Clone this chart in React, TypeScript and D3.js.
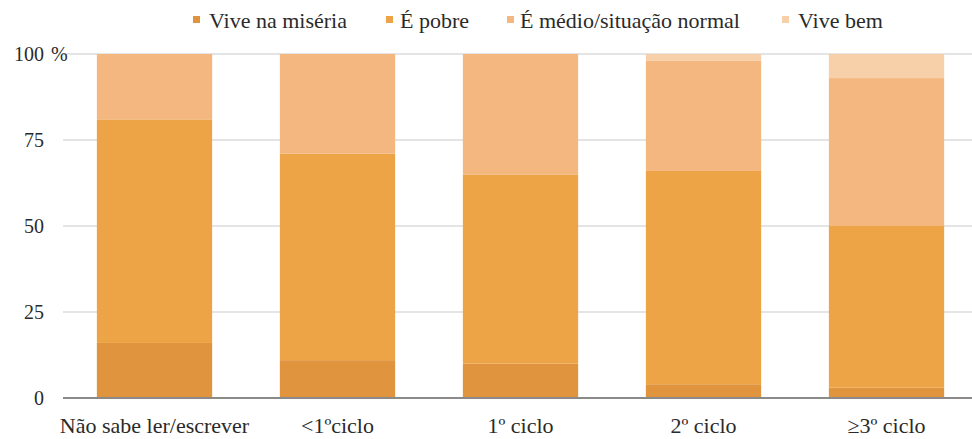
import React from "react";
import * as d3 from "d3";

const categories = ["Não sabe ler/escrever", "<1ºciclo", "1º ciclo", "2º ciclo", "≥3º ciclo"];
const seriesNames = ["Vive na miséria", "É pobre", "É médio/situação normal", "Vive bem"];
const miseria = [16, 11, 10, 4, 3];
const pobre = [65, 60, 55, 62, 47];
const medio = [19, 29, 35, 32, 43];
const viveBem = [0, 0, 0, 2, 7];
const yTicks = [0, 25, 50, 75, 100];
const colors = ["#E0943D", "#EDA447", "#F3B77F", "#F7CFA9"];

const W = 972;
const H = 439;

export default function App() {
  const x = d3.scaleBand<string>().domain(categories).range([63, 978]).paddingInner(0.37).paddingOuter(0.185);
  const y = d3.scaleLinear().domain([0, 100]).range([398, 54]);
  const rows = categories.map((c, i) => ({
    cat: c,
    s0: miseria[i],
    s1: pobre[i],
    s2: medio[i],
    s3: viveBem[i],
  }));
  const stack = d3.stack<any>().keys(["s0", "s1", "s2", "s3"]);
  const layers = stack(rows);
  const legendSq = [193, 386, 507, 782];
  const legendTx = [209, 400, 520, 798];

  return (
    <div style={{ position: "fixed", left: 0, top: 0, width: W, height: H, background: "#fff", fontFamily: "serif" }}>
      <svg width={W} height={H}>
        {yTicks.filter((t) => t > 0).map((t) => (
          <line key={t} x1={63} x2={W} y1={y(t)} y2={y(t)} stroke="#c9c9c9" strokeWidth={1.2} />
        ))}
        {layers.map((layer, li) => (
          <g key={li} fill={colors[li]}>
            {layer.map((d, i) => (
              <rect key={i} x={x(categories[i])} width={x.bandwidth()} y={y(d[1])} height={Math.max(0, y(d[0]) - y(d[1]))} />
            ))}
          </g>
        ))}
        <line x1={63} x2={W} y1={y(0)} y2={y(0)} stroke="#8a8a8a" strokeWidth={2} />
        <g fill="#2a2a2a" style={{ fontFamily: "serif" }}>
          {yTicks.map((t) => (
            <text key={t} x={44} y={y(t) + 7} textAnchor="end" fontSize={20}>
              {String(t)}
            </text>
          ))}
          <text x={51} y={y(100) + 7} fontSize={20}>%</text>
          {categories.map((c) => (
            <text key={c} x={(x(c) as number) + x.bandwidth() / 2} y={433} textAnchor="middle" fontSize={22}>
              {c}
            </text>
          ))}
          {seriesNames.map((s, i) => (
            <text key={s} x={legendTx[i]} y={28} fontSize={22}>{s}</text>
          ))}
        </g>
        {seriesNames.map((s, i) => (
          <rect key={s} x={legendSq[i]} y={16} width={7} height={7} fill={colors[i]} />
        ))}
      </svg>
    </div>
  );
}
